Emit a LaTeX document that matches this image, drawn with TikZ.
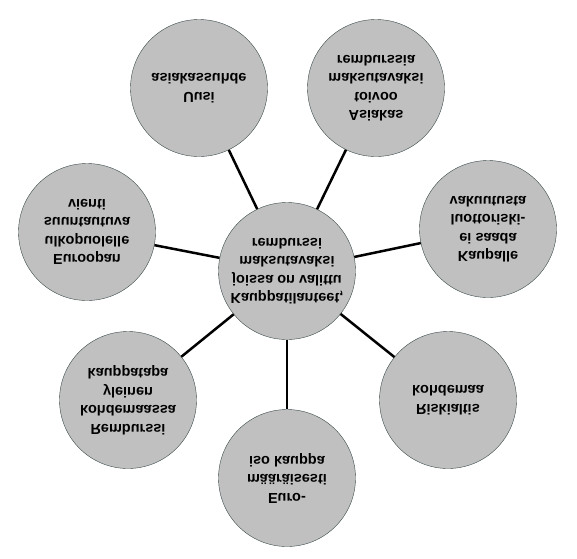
\documentclass[tikz,border=0pt]{standalone}
\usepackage{fontspec}
\setmainfont{Liberation Sans}
\usetikzlibrary{positioning}
\definecolor{bubblegray}{HTML}{C0C0C0}
\definecolor{rimgray}{HTML}{3A4A4A}

\begin{document}
\begin{tikzpicture}[
x=1pt, y=-1pt,
bubble/.style={
draw=rimgray,
fill=bubblegray,
circle,
align=center,
minimum size=137pt,
inner sep=0pt,
yscale=-1,
font=\bfseries\fontsize{14.5}{18.5}\selectfont
},
spoke/.style={line width=2.5pt}
]
\useasboundingbox (0,0) rectangle (577,558);

\node[bubble] (hub) at (287,271)
{Kauppatilanteet,\\ joissa on valittu\\ maksutavaksi\\ remburssi};

\node[bubble] (uusi) at (199,88) {Uusi\\ asiakassuhde};
\node[bubble] (toivoo) at (376,88)
{Asiakas\\ toivoo\\ maksutavaksi\\ remburssia};
\node[bubble] (vakuutus) at (488,229)
{Kaupalle\\ ei saada\\ luottoriski-\\ vakuutusta};
\node[bubble] (vienti) at (87,232)
{Euroopan\\ ulkopuolelle\\ suuntautuva\\ vienti};
\node[bubble] (kohde) at (128,400)
{Remburssi\\ kohdemaassa\\ yleinen\\ kauppatapa};
\node[bubble] (riski) at (448,400) {Riskialtis\\ kohdemaa};
\node[bubble] (euro) at (287,478)
{Euro-\\ määräisesti\\ iso kauppa};

\draw[spoke] (hub) -- (uusi);
\draw[spoke] (hub) -- (toivoo);
\draw[spoke] (hub) -- (vakuutus);
\draw[spoke] (hub) -- (vienti);
\draw[spoke] (hub) -- (kohde);
\draw[spoke] (hub) -- (riski);
\draw[spoke] (hub) -- (euro);
\end{tikzpicture}
\end{document}
